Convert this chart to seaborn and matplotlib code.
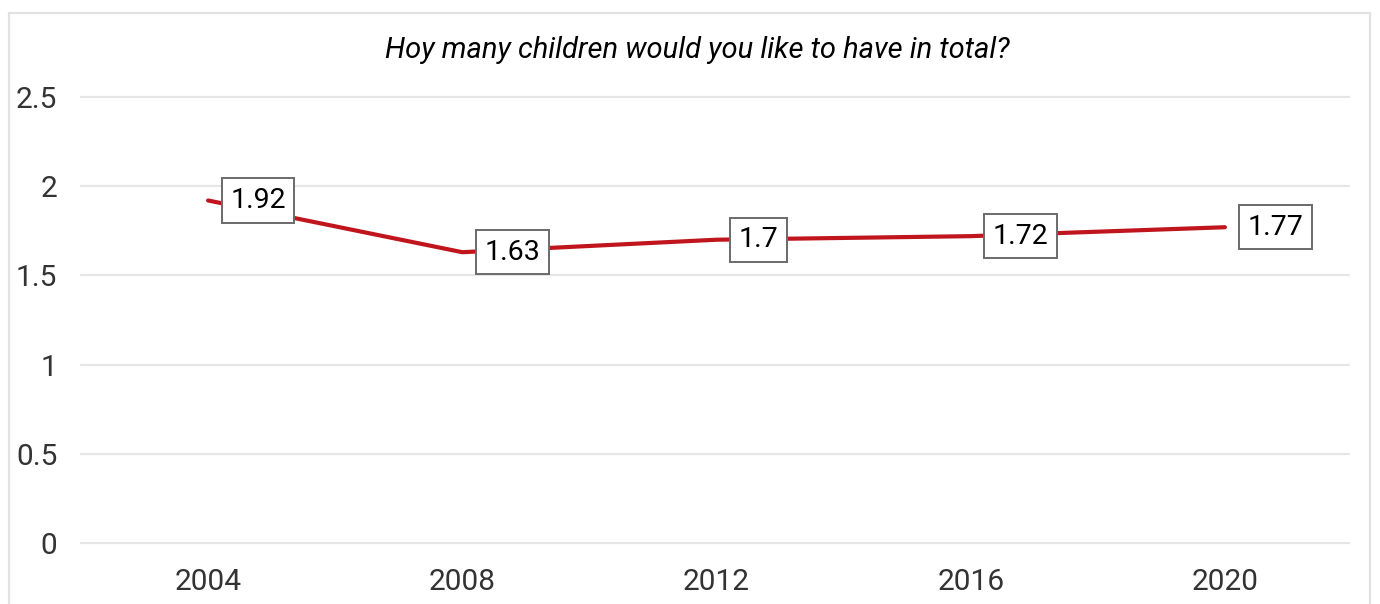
import matplotlib
matplotlib.use("Agg")
import matplotlib.pyplot as plt
import seaborn as sns
import pandas as pd
from matplotlib.patches import Rectangle

# Survey waves and mean desired number of children
years = ["2004", "2008", "2012", "2016", "2020"]
desired_children = [1.92, 1.63, 1.70, 1.72, 1.77]
value_labels = ["1.92", "1.63", "1.7", "1.72", "1.77"]
y_ticks = [0, 0.5, 1, 1.5, 2, 2.5]
y_tick_labels = ["0", "0.5", "1", "1.5", "2", "2.5"]
title = "Hoy many children would you like to have in total?"

sns.set_theme(style="white")
plt.rcParams["font.family"] = ["Roboto", "DejaVu Sans"]

df = pd.DataFrame({"pos": range(len(years)), "value": desired_children})

W, H = 1380, 604
fig = plt.figure(figsize=(W / 100, H / 100), dpi=100)
fig.patch.set_facecolor("white")

# Light frame around the chart
fig.patches.append(Rectangle((9 / W, -0.2), (1370 - 9) / W, 1.2 - 13 / H,
                             transform=fig.transFigure, fill=False,
                             edgecolor="#e2e2e2", linewidth=1.6))

left, right = 81, 1352
bottom, top = 543, 97
ax = fig.add_axes([left / W, (H - bottom) / H, (right - left) / W, (bottom - top) / H])

ax.set_xlim(-0.5, len(years) - 0.5)
ax.set_ylim(0, 2.5)
for y in y_ticks:
    ax.axhline(y, color="#e6e6e6", linewidth=1.6, zorder=0, clip_on=False,
               xmin=0, xmax=(1349 - left) / (right - left))

sns.lineplot(data=df, x="pos", y="value", ax=ax, color="#c0151d",
             linewidth=3.0, zorder=3)

for i, (v, lab) in enumerate(zip(desired_children, value_labels)):
    ax.annotate(lab, xy=(i, v), xytext=(16, 0), textcoords="offset points",
                ha="left", va="center", fontsize=20.5, color="black", zorder=5,
                bbox=dict(boxstyle="square,pad=0.3", facecolor="white",
                          edgecolor="#6a6a6a", linewidth=1.4))

ax.set_xticks(range(len(years)))
ax.set_xticklabels(years)
ax.set_yticks(y_ticks)
ax.set_yticklabels(y_tick_labels)
ax.tick_params(axis="both", length=0, labelsize=21.5, labelcolor="#333333")
ax.tick_params(axis="x", pad=18)
ax.tick_params(axis="y", pad=17)
ax.set_xlabel("")
ax.set_ylabel("")
for s in ax.spines.values():
    s.set_visible(False)

fig.text(697 / W, (H - 50) / H, title, ha="center", va="center",
         fontsize=21, fontstyle="italic", color="black")

fig.savefig("out.png", dpi=100, facecolor="white")
